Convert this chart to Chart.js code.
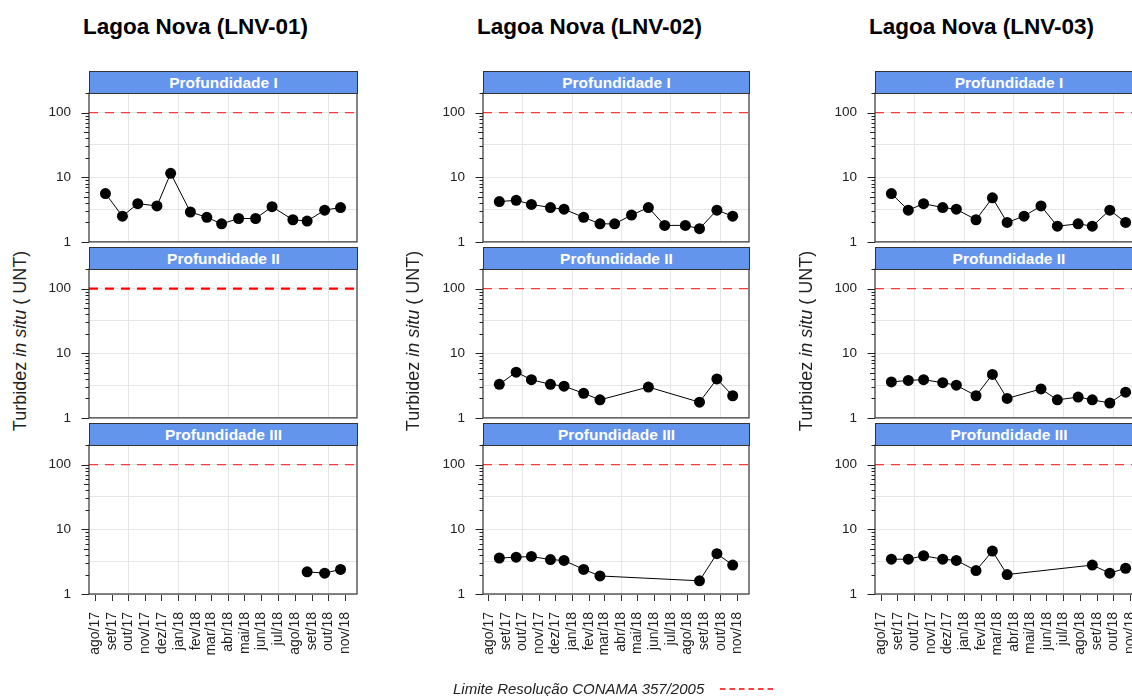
<!DOCTYPE html>
<html>
<head>
<meta charset="utf-8">
<script src="https://cdn.jsdelivr.net/npm/chart.js@4.4.1/dist/chart.umd.min.js"></script>
<style>
  html, body { margin: 0; padding: 0; background: #fff; overflow: hidden; }
  body { width: 1132px; height: 696px; position: relative; font-family: "Liberation Sans", Arial, sans-serif; }
  .title { position: absolute; top: 15px; font-weight: bold; font-size: 22.5px; line-height: 23px; color: #000; white-space: nowrap; }
  .strip { position: absolute; height: 23px; background: #6495ed; border: 1px solid #333; box-sizing: border-box;
           color: #fff; font-weight: bold; font-size: 15.5px; line-height: 21px; text-align: center; }
  .ylab { position: absolute; top: 341px; font-size: 18px; line-height: 18px; color: #222; white-space: nowrap;
          transform: translate(-50%, -50%) rotate(-90deg); }
  canvas { position: absolute; }
  .legend { position: absolute; left: 453px; top: 679px; font-size: 15px; line-height: 18px; color: #222; white-space: nowrap; }
  .legend i { vertical-align: middle; }
  .legend svg { vertical-align: middle; margin-left: 16px; }
</style>
</head>
<body>
<script>
// sampling campaigns (one per month, ago/17 to out/18)
const campaignDates = ['2017-08-20', '2017-09-20', '2017-10-18', '2017-11-22', '2017-12-17',
  '2018-01-22', '2018-02-21', '2018-03-20', '2018-04-20', '2018-05-21', '2018-06-20',
  '2018-07-28', '2018-08-23', '2018-09-24', '2018-10-23'];
const monthLabels = ['ago/17', 'set/17', 'out/17', 'nov/17', 'dez/17', 'jan/18', 'fev/18', 'mar/18',
  'abr/18', 'mai/18', 'jun/18', 'jul/18', 'ago/18', 'set/18', 'out/18', 'nov/18'];
const stations = ['Lagoa Nova (LNV-01)', 'Lagoa Nova (LNV-02)', 'Lagoa Nova (LNV-03)'];
const depths = ['Profundidade I', 'Profundidade II', 'Profundidade III'];
const yLabelValues = [1, 10, 100];
const yGridValues = [1, 3.1623, 10, 31.623, 100];
const limitConama = 100;

// turbidez in situ (UNT); null = sem amostra
const lnv01_I   = [5.6, 2.5, 3.9, 3.6, 11.5, 2.9, 2.4, 1.9, 2.3, 2.3, 3.5, 2.2, 2.1, 3.1, 3.4];
const lnv01_II  = [null, null, null, null, null, null, null, null, null, null, null, null, null, null, null];
const lnv01_III = [null, null, null, null, null, null, null, null, null, null, null, null, 2.2, 2.1, 2.4];
const lnv02_I   = [4.2, 4.4, 3.8, 3.4, 3.2, 2.4, 1.9, 1.9, 2.6, 3.4, 1.8, 1.8, 1.6, 3.1, 2.5];
const lnv02_II  = [3.3, 5.1, 3.9, 3.3, 3.1, 2.4, 1.9, null, null, 3.0, null, null, 1.75, 4.0, 2.2];
const lnv02_III = [3.6, 3.7, 3.8, 3.4, 3.3, 2.4, 1.9, null, null, null, null, null, 1.6, 4.2, 2.8];
const lnv03_I   = [5.6, 3.1, 3.9, 3.4, 3.2, 2.2, 4.8, 2.0, 2.5, 3.6, 1.75, 1.9, 1.75, 3.1, 2.0];
const lnv03_II  = [3.6, 3.8, 3.9, 3.5, 3.2, 2.2, 4.7, 2.0, null, 2.8, 1.9, 2.1, 1.9, 1.7, 2.5];
const lnv03_III = [3.45, 3.45, 3.9, 3.45, 3.3, 2.3, 4.6, 2.0, null, null, null, null, 2.8, 2.1, 2.5];

const series = [
  [lnv01_I, lnv01_II, lnv01_III],
  [lnv02_I, lnv02_II, lnv02_III],
  [lnv03_I, lnv03_II, lnv03_III]
];

// panel geometry
const colLeft = [89, 483, 875];
const colWidth = [268, 266, 267];
const stripTop = [71, 247, 423];
const plotTop = [93, 269, 445];
const plotHeight = 149;
const yAxisW = 60;
const tickPad = 18;   // gap between y labels and the log ticks
const padV = 26;      // chart.js adds label half-height + tick padding above/below the y axis
const padR = 22;      // room for the rotated last x label

const xMin = Date.parse('2017-07-21');
const xMax = Date.parse('2018-11-22');
const monthStarts = monthLabels.map((_, i) => Date.UTC(2017, 7 + i, 1));
const campaignX = campaignDates.map(d => Date.parse(d));

const tickFont = { family: '"Liberation Sans", Arial, sans-serif', size: 13.5 };
const xTickFont = { family: '"Liberation Sans", Arial, sans-serif', size: 14 };

// box around each facet
const panelFrame = {
  id: 'panelFrame',
  afterDraw(chart) {
    const a = chart.chartArea, ctx = chart.ctx;
    ctx.save();
    ctx.strokeStyle = '#333';
    ctx.lineWidth = 1.2;
    ctx.strokeRect(a.left, a.top, a.right - a.left, a.bottom - a.top);
    ctx.restore();
  }
};

// log ticks on the left edge (1..9 per decade)
const logTicks = {
  id: 'logTicks',
  afterDraw(chart) {
    const y = chart.scales.y, a = chart.chartArea, ctx = chart.ctx;
    ctx.save();
    ctx.strokeStyle = '#222';
    ctx.lineWidth = 1;
    for (let d = 1; d <= 100; d *= 10) {
      for (let k = 1; k <= 9; k++) {
        const v = k * d;
        if (v < y.min || v > y.max + 1e-6) continue;
        const len = k === 1 ? 7.5 : (k === 5 ? 5 : 3.5);
        const py = Math.round(y.getPixelForValue(v)) + 0.5;
        ctx.beginPath();
        ctx.moveTo(a.left - len, py);
        ctx.lineTo(a.left, py);
        ctx.stroke();
      }
    }
    ctx.restore();
  }
};

function addDiv(cls, html, style) {
  const el = document.createElement('div');
  el.className = cls;
  el.innerHTML = html;
  Object.assign(el.style, style);
  document.body.appendChild(el);
  return el;
}

function drawPanel(col, row) {
  const values = series[col][row];
  const bottomRow = row === 2;
  const padBottom = bottomRow ? 0 : padV, xAxisH = bottomRow ? 82 : 0;
  const w = yAxisW + colWidth[col] + padR;
  const h = padV + plotHeight + padBottom + xAxisH;

  const canvas = document.createElement('canvas');
  canvas.width = w; canvas.height = h;
  canvas.style.width = w + 'px'; canvas.style.height = h + 'px';
  canvas.style.left = (colLeft[col] - yAxisW) + 'px';
  canvas.style.top = (plotTop[row] - padV) + 'px';
  document.body.appendChild(canvas);

  const points = [];
  values.forEach((v, i) => { if (v !== null) points.push({ x: campaignX[i], y: v }); });
  const empty = points.length === 0;

  new Chart(canvas, {
    type: 'line',
    data: {
      datasets: [{
        data: points,
        borderColor: '#000',
        borderWidth: 1,
        pointRadius: 5.5,
        pointBackgroundColor: '#000',
        pointBorderWidth: 0,
        tension: 0,
        spanGaps: true
      }, {
        data: [{ x: xMin, y: limitConama }, { x: xMax, y: limitConama }],
        borderColor: empty ? '#ff0000' : 'rgba(255,0,0,0.75)',
        borderWidth: empty ? 2.2 : 1.3,
        borderDash: [9, 7],
        pointRadius: 0
      }]
    },
    options: {
      responsive: false,
      animation: false,
      devicePixelRatio: 1,
      layout: { padding: { left: 0, right: padR, top: padV, bottom: padBottom } },
      plugins: { legend: { display: false }, tooltip: { enabled: false } },
      scales: {
        x: {
          type: 'linear',
          min: xMin,
          max: xMax,
          afterBuildTicks: s => { s.ticks = monthStarts.map(v => ({ value: v })); },
          afterFit: s => { s.height = xAxisH; },
          border: { display: false },
          grid: {
            color: c => (c.index % 3 === 2 ? '#e6e6e6' : 'rgba(0,0,0,0)'),
            drawTicks: bottomRow,
            tickLength: 7,
            tickColor: '#333',
            tickWidth: 1
          },
          ticks: {
            display: bottomRow,
            autoSkip: false,
            minRotation: 90,
            maxRotation: 90,
            padding: 11,
            color: '#222',
            font: xTickFont,
            callback: (v, i) => monthLabels[i]
          }
        },
        y: {
          type: 'logarithmic',
          min: 1,
          max: 200,
          afterBuildTicks: s => { s.ticks = yGridValues.map(v => ({ value: v })); },
          afterFit: s => { s.width = yAxisW; },
          border: { display: false },
          grid: { color: '#e6e6e6', drawTicks: false },
          ticks: {
            padding: tickPad,
            color: '#222',
            font: tickFont,
            callback: v => (yLabelValues.includes(v) ? String(v) : '')
          }
        }
      }
    },
    plugins: [panelFrame, logTicks]
  });

  addDiv('strip', depths[row], {
    left: colLeft[col] + 'px', top: stripTop[row] + 'px', width: (colWidth[col] + 1) + 'px'
  });
}

const yLabX = [20, 413, 806];
for (let c = 0; c < 3; c++) {
  addDiv('title', stations[c], { left: (colLeft[c] - 6) + 'px' });
  addDiv('ylab', 'Turbidez <i>in situ</i> ( UNT)', { left: yLabX[c] + 'px' });
  for (let r = 0; r < 3; r++) drawPanel(c, r);
}

addDiv('legend',
  '<i>Limite Resolução CONAMA 357/2005</i>' +
  '<svg width="56" height="6"><line x1="0" y1="3" x2="56" y2="3" stroke="#ff0000" stroke-width="1.3" stroke-dasharray="5.5 4"/></svg>',
  {});
</script>
</body>
</html>
